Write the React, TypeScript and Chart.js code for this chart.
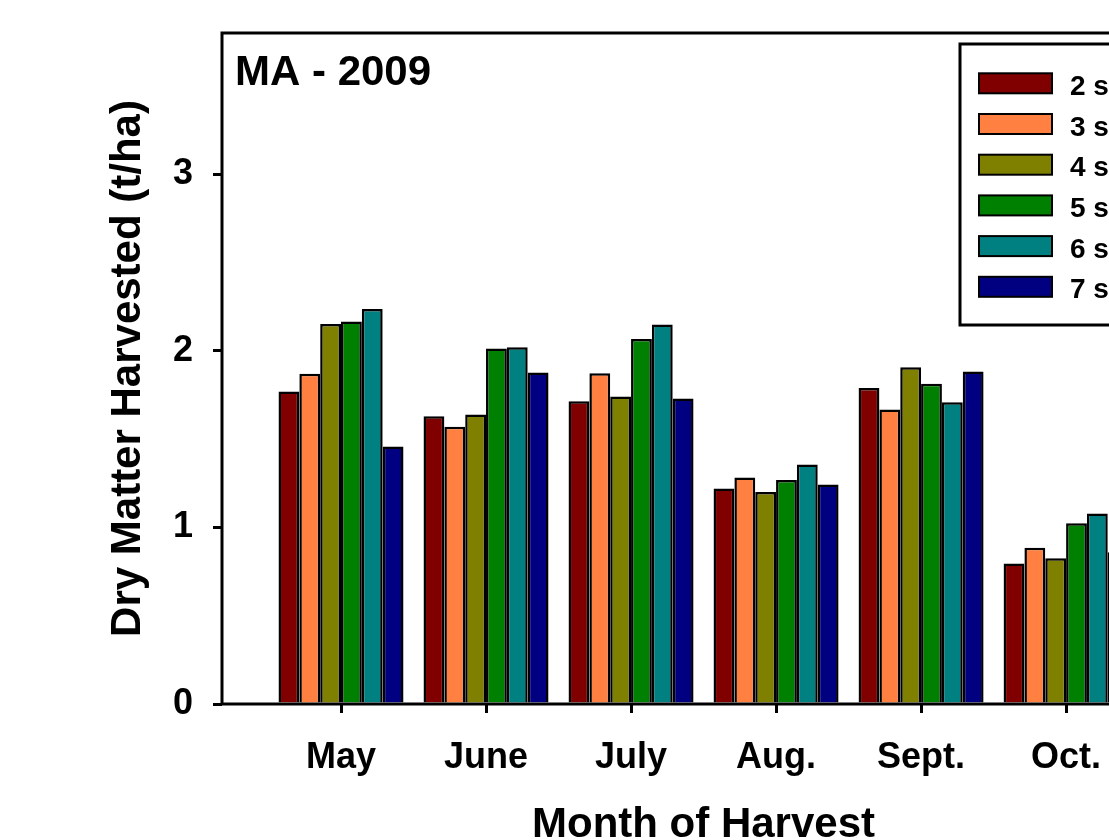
import React, { useEffect, useRef } from 'react';
import { Chart, registerables } from 'chart.js';

Chart.register(...registerables);

// ---- data ----
const months = ['May', 'June', 'July', 'Aug.', 'Sept.', 'Oct.'];
const monthPositions = [1, 2, 3, 4, 5, 6];
const seriesLabels = ['2 species', '3 species', '4 species', '5 species', '6 species', '7 species'];
const seriesColors = ['#800000', '#FF8040', '#808000', '#008000', '#008080', '#000080'];
const s2 = [1.77, 1.63, 1.715, 1.22, 1.79, 0.795];
const s3 = [1.87, 1.57, 1.873, 1.283, 1.668, 0.885];
const s4 = [2.152, 1.64, 1.741, 1.201, 1.907, 0.825];
const s5 = [2.166, 2.013, 2.067, 1.269, 1.813, 1.023];
const s6 = [2.237, 2.02, 2.149, 1.357, 1.709, 1.079];
const s7 = [1.458, 1.877, 1.73, 1.243, 1.883, 0.86];
const seriesValues = [s2, s3, s4, s5, s6, s7];
const yTickValues = [0, 1, 2, 3];
const panelLabel = 'MA - 2009';
const xTitle = 'Month of Harvest';
const yTitle = 'Dry Matter Harvested (t/ha)';

const FONT = '"Liberation Sans", Arial, Helvetica, sans-serif';

const decorPlugin = {
  id: 'decor',
  afterDraw(chart: any) {
    const { ctx, chartArea } = chart;
    ctx.save();
    // frame
    ctx.strokeStyle = '#000';
    ctx.lineWidth = 3;
    ctx.strokeRect(chartArea.left, chartArea.top, chartArea.right - chartArea.left, chartArea.bottom - chartArea.top);
    // panel label
    ctx.fillStyle = '#000';
    ctx.font = `bold 42px ${FONT}`;
    ctx.textAlign = 'left';
    ctx.textBaseline = 'alphabetic';
    ctx.fillText(panelLabel, 235, 85);
    // legend box
    const bx = 960, by = 44, bw = 260, bh = 281;
    ctx.fillStyle = '#fff';
    ctx.fillRect(bx, by, bw, bh);
    ctx.lineWidth = 3;
    ctx.strokeStyle = '#000';
    ctx.strokeRect(bx, by, bw, bh);
    chart.data.datasets.forEach((ds: any, i: number) => {
      const top = 73.3 + i * 40.7;
      ctx.fillStyle = ds.backgroundColor;
      ctx.fillRect(979, top, 73, 20);
      ctx.lineWidth = 2;
      ctx.strokeStyle = '#000';
      ctx.strokeRect(979, top, 73, 20);
      ctx.fillStyle = '#000';
      ctx.font = `bold 28px ${FONT}`;
      ctx.textBaseline = 'alphabetic';
      ctx.fillText(ds.label, 1070, top + 21.5);
    });
    ctx.restore();
  },
};

export default function App() {
  const ref = useRef<HTMLCanvasElement | null>(null);

  useEffect(() => {
    if (!ref.current) return;
    Chart.defaults.font.family = FONT;
    Chart.defaults.color = '#000';
    const chart = new Chart(ref.current, {
      type: 'bar',
      data: {
        datasets: seriesValues.map((vals, i) => ({
          label: seriesLabels[i],
          data: vals.map((v, j) => ({ x: monthPositions[j], y: v })),
          backgroundColor: seriesColors[i],
          borderColor: '#000',
          borderWidth: 2.5,
          borderSkipped: 'start',
          categoryPercentage: 0.862,
          barPercentage: 1,
        })),
      },
      options: {
        animation: false,
        responsive: false,
        maintainAspectRatio: false,
        layout: { padding: { left: 0, top: 33, right: 115, bottom: 0 } },
        plugins: { legend: { display: false }, tooltip: { enabled: false } },
        scales: {
          x: {
            type: 'linear',
            min: 0.1793,
            max: 6.82,
            offset: false,
            border: { display: false },
            grid: {
              offset: false,
              drawOnChartArea: false,
              drawTicks: true,
              tickLength: 9,
              tickWidth: 3,
              lineWidth: 3,
              color: '#000',
              tickColor: '#000',
            },
            ticks: {
              stepSize: 1,
              includeBounds: false,
              autoSkip: false,
              maxRotation: 0,
              padding: 27,
              font: { size: 36, weight: 'bold', lineHeight: 1 },
              color: '#000',
              callback: (v: any) => {
                const idx = monthPositions.indexOf(Number(v));
                return idx >= 0 ? months[idx] : '';
              },
            },
            title: {
              display: true,
              text: xTitle,
              color: '#000',
              font: { size: 42, weight: 'bold', lineHeight: 1 },
              padding: { top: 0, bottom: 14 },
            },
            afterFit: (scale: any) => {
              scale.height = 156;
              scale.paddingLeft = 0;
              scale.paddingRight = 0;
            },
          },
          y: {
            type: 'linear',
            min: 0,
            max: 3.8,
            border: { display: false },
            grid: {
              drawOnChartArea: false,
              drawTicks: true,
              tickLength: 9,
              tickWidth: 3,
              lineWidth: 3,
              color: '#000',
              tickColor: '#000',
            },
            afterBuildTicks: (scale: any) => {
              scale.ticks = yTickValues.map((v) => ({ value: v }));
            },
            ticks: {
              padding: 20,
              font: { size: 36, weight: 'bold', lineHeight: 1 },
              color: '#000',
              callback: (v: any) => String(v),
            },
            title: {
              display: true,
              text: yTitle,
              color: '#000',
              font: { size: 42, weight: 'bold', lineHeight: 1 },
              padding: { top: 107, bottom: 0 },
            },
            afterFit: (scale: any) => {
              scale.width = 222;
              scale.paddingTop = 0;
              scale.paddingBottom = 0;
            },
          },
        },
      },
      plugins: [decorPlugin],
    } as any);
    return () => chart.destroy();
  }, []);

  return (
    <div style={{ position: 'fixed', left: 0, top: 0, width: 1109, height: 840, overflow: 'hidden', background: '#fff' }}>
      <canvas ref={ref} width={1300} height={860} style={{ display: 'block', width: 1300, height: 860 }} />
    </div>
  );
}
